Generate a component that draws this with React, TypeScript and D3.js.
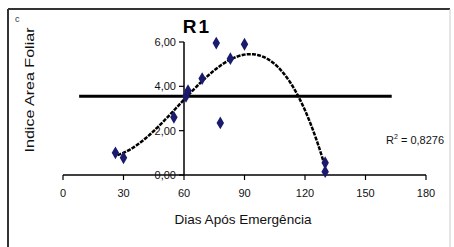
import React from "react";
import * as d3 from "d3";

const xValues = [26, 30, 55, 61, 62, 69, 76, 78, 83, 90, 130, 130];
const yValues = [1.0, 0.78, 2.6, 3.55, 3.8, 4.35, 5.95, 2.35, 5.25, 5.9, 0.55, 0.15];
const xTicks = [0, 30, 60, 90, 120, 150, 180];
const yTicks = [0, 2, 4, 6];
const yTickLabels = ["0,00", "2,00", "4,00", "6,00"];
// cubic trendline coefficients (a + b x + c x^2 + d x^3)
const trendCoef = [2.40114, -0.156426, 0.0044297, -0.000025752];
const trendRange = [27, 130];
const hLineY = 3.55;
const hLineX = [8, 163];
const title = "R1";
const panelLetter = "c";
const xLabel = "Dias Após Emergência";
const yLabel = "Indice Area Foliar";
const r2Label = "0,8276";

export default function App() {
  const W = 454, H = 247;
  const x = d3.scaleLinear().domain([0, 180]).range([63, 426]);
  const y = d3.scaleLinear().domain([0, 6]).range([175, 42]);
  const f = (v: number) => trendCoef.reduce((s, c, i) => s + c * Math.pow(v, i), 0);
  const curvePts = d3.range(trendRange[0], trendRange[1] + 0.01, 0.5).map((v) => [v, f(v)] as [number, number]);
  const line = d3.line<[number, number]>().x((d) => x(d[0])).y((d) => y(d[1]));
  const font = "'Liberation Sans', Arial, sans-serif";
  const diamond = d3.symbol().type(d3.symbolDiamond).size(48)()!;
  return (
    <svg width={W} height={H} style={{ position: "absolute", left: 0, top: 0, background: "#fff" }} fontFamily={font}>
      <line x1={8} y1={9} x2={450} y2={9} stroke="#333" strokeWidth={2} />
      <line x1={8} y1={9} x2={8} y2={247} stroke="#333" strokeWidth={2} />
      <line x1={450} y1={9} x2={450} y2={247} stroke="#ccc" strokeWidth={1} />
      <text x={15} y={22} fontSize={9} fill="#333">{panelLetter}</text>
      <text x={197} y={33} fontSize={19} fontWeight="bold" textAnchor="middle" letterSpacing={2}>{title}</text>
      <line x1={x(0)} x2={x(180)} y1={y(0)} y2={y(0)} stroke="#000" strokeWidth={1.5} />
      <line x1={x(60)} x2={x(60)} y1={y(0)} y2={y(6)} stroke="#000" strokeWidth={1.5} />
      {xTicks.map((t) => (
        <g key={"xt" + t}>
          <line x1={x(t)} x2={x(t)} y1={y(0)} y2={y(0) + 5} stroke="#000" strokeWidth={1.2} />
          <text x={x(t)} y={y(0) + 22} fontSize={11} textAnchor="middle" fill="#111">{t}</text>
        </g>
      ))}
      {yTicks.map((t, i) => (
        <g key={"yt" + t}>
          <line x1={x(60) - 5} x2={x(60)} y1={y(t)} y2={y(t)} stroke="#000" strokeWidth={1.2} />
          <text x={x(60) - 8} y={y(t) + 4} fontSize={11} textAnchor="end" fill="#111">{yTickLabels[i]}</text>
        </g>
      ))}
      <line x1={x(hLineX[0])} x2={x(hLineX[1])} y1={y(hLineY)} y2={y(hLineY)} stroke="#000" strokeWidth={3} />
      <path d={line(curvePts)!} fill="none" stroke="#000" strokeWidth={2.5} strokeDasharray="4 1.2" />
      {xValues.map((v, i) => (
        <path key={"p" + i} d={diamond} transform={`translate(${x(v)},${y(yValues[i])})`} fill="#1a1a6e" />
      ))}
      <text x={386} y={144} fontSize={11} fill="#111">R<tspan dy={-5} fontSize={7}>2</tspan><tspan dy={5}> = {r2Label}</tspan></text>
      <text x={243} y={224} fontSize={13} textAnchor="middle" textLength={137} lengthAdjust="spacingAndGlyphs" fill="#111">{xLabel}</text>
      <text transform="translate(34,90) rotate(-90)" fontSize={13} textAnchor="middle" textLength={125} lengthAdjust="spacingAndGlyphs" fill="#111">{yLabel}</text>
    </svg>
  );
}
